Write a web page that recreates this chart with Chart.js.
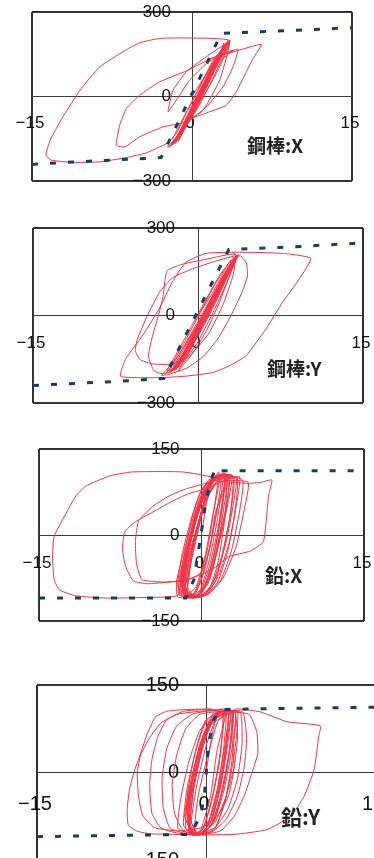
<!DOCTYPE html>
<html><head><meta charset="utf-8">
<script src="https://cdn.jsdelivr.net/npm/chart.js@4"></script>
<style>
html,body{margin:0;padding:0;background:#fff;overflow:hidden;width:374px;height:858px;position:relative;}
.panel{position:absolute;left:0;}
canvas{display:block;}
</style></head><body>
<div class="panel" style="top:0px"><canvas id="c1" width="374" height="200"></canvas></div>
<div class="panel" style="top:210px"><canvas id="c2" width="374" height="210"></canvas></div>
<div class="panel" style="top:430px"><canvas id="c3" width="374" height="210"></canvas></div>
<div class="panel" style="top:670px"><canvas id="c4" width="400" height="210"></canvas></div>
<script>
// ---- DATA (displacement, force) ----
const panelTitles = ['鋼棒:X', '鋼棒:Y', '鉛:X', '鉛:Y'];
const dispTicks = [-15, 0, 15];
const steelForceTicks = [-300, 0, 300];
const leadForceTicks = [-150, 0, 150];

const steelXSkeleton = [[-15,-241],[-11.8,-234],[-2.9,-217],[2.75,224],[6.3,230],[15,244]];
const steelYSkeleton = [[-15,-240],[-6.9,-225],[-3.1,-216],[2.8,226],[8,234],[15,249]];
const leadXSkeleton = [[-15,-110],[-1.45,-110],[-0.7,-78],[-0.22,-20],[0.34,50],[0.77,91],[1.32,117],[1.63,112],[15,112]];
const leadYSkeleton = [[-15,-110],[-8.5,-108],[-1.4,-106],[-0.5,-75],[-0.15,-41],[0.24,50],[0.68,90],[1.27,108],[7.8,110],[15,112]];

const steelXPath = [
 [0,0],[1.0,60],[2.2,130],[3.2,180],
 [3.1,185],[2.0,110],[0.8,20],[-0.5,-80],[-1.5,-150],[-2.1,-178],[-1.2,-130],[0,-40],[1.2,50],[2.3,130],[3.4,200],
 [2.6,150],[1.4,60],[0.2,-30],[-1.0,-115],[-1.7,-165],[-0.8,-100],[0.5,-10],[1.7,90],[2.8,165],[3.5,190],
 [2.9,140],[1.9,60],[0.7,-30],[-0.6,-110],[-1.3,-160],[-0.4,-90],[0.9,0],[2.1,100],[3.3,175],
 [2.5,130],[1.3,40],[0.1,-50],[-1.1,-130],[-1.8,-172],[-0.9,-115],[0.3,-20],[1.5,75],[2.6,150],[3.5,195],
 [2.7,135],[1.5,45],[0.3,-45],[-0.9,-125],[-1.6,-168],[-0.6,-100],[0.6,-5],[1.9,95],[3.1,180],
 [2.3,125],[1.1,35],[-0.2,-55],[-1.3,-140],[-2.0,-176],[-1.1,-125],[0.1,-35],[1.3,60],[2.4,140],[3.3,192],
 [2.6,140],[1.6,60],[0.5,-25],[-0.7,-105],[-1.5,-158],[-0.5,-95],[0.8,5],[2.0,105],[3.0,178],
 [2.4,120],[1.2,30],[0,-60],[-1.2,-140],[-1.9,-170],[-1.0,-120],[0.2,-30],[1.4,60],[2.5,140],[3.0,190],
 [2.2,110],[0.9,10],[-0.4,-90],[-1.6,-160],[-1.8,-150],[-0.6,-60],[0.8,40],[2.0,130],[3.6,200],
 [2.8,150],[1.6,50],[0.4,-40],[-0.8,-120],[-2.0,-175],[-2.3,-180],[-1.4,-140],[-0.2,-50],[1.0,40],[2.2,130],[4.3,168],
 [3.84,105],[2.9,34],[1.34,-37],[-0.53,-96],[-1.47,-155],[-1.78,-167],[-0.6,-110],[0.9,-10],[2.4,90],[3.53,194],
 [1.34,141],[-0.53,88],[-1.78,22],[-2.25,-54],[-1.47,-13],[-0.22,58],[1.34,117],[2.3,141],[3.84,158],[6.5,185],
 [5.72,135],[4.94,76],[4.16,17],[3.22,-31],[1.66,-54],[0.25,-72],[-0.22,-54],[0.72,22],[1.97,105],[3.84,164],
 [1.97,138],[-0.53,91],[-3.03,52],[-4.9,5],[-6.16,-43],[-6.78,-102],[-7.1,-173],[-6.3,-179],[-4.9,-143],[-2.72,-108],[-0.53,-90],[1.03,-49],[2.6,58],[3.53,198],
 [1.97,206],[-1.16,208],[-3.03,206],[-4.9,191],[-6.47,159],[-8.66,105],[-10.5,22],[-12.1,-72],[-13.3,-155],[-13.7,-208],[-13.2,-226],[-11.2,-234],[-8.66,-232],[-6.16,-217],[-4.28,-200],[-2.4,-167],[-1.47,-131],[-0.53,-60],[0.72,34],[2.28,141],[3.4,195]
];

const steelYPath = [
 [0,0],[1.2,70],[2.4,150],[3.5,205],
 [3.6,208],[2.6,140],[1.4,50],[0.2,-40],[-1.0,-120],[-2.0,-175],[-2.6,-195],[-1.5,-140],[-0.2,-50],[1.1,40],[2.4,130],[3.4,200],
 [2.2,125],[1.0,30],[-0.2,-60],[-1.5,-150],[-2.2,-185],[-1.2,-120],[0.1,-30],[1.4,70],[2.6,150],[3.6,205],
 [2.9,140],[1.9,40],[0.8,-50],[-0.5,-130],[-1.8,-190],[-0.6,-110],[0.6,-20],[1.9,80],[3.2,170],
 [2.3,120],[1.1,30],[-0.1,-60],[-1.3,-140],[-2.4,-192],[-1.4,-135],[-0.1,-40],[1.2,55],[2.5,145],[3.6,207],
 [2.7,145],[1.5,50],[0.3,-40],[-0.9,-125],[-2.0,-185],[-0.9,-125],[0.4,-30],[1.7,70],[3.0,165],
 [2.1,115],[0.9,25],[-0.3,-65],[-1.6,-155],[-2.6,-198],[-1.6,-150],[-0.3,-55],[1.0,40],[2.3,135],[3.5,206],
 [2.6,150],[1.3,55],[0.1,-35],[-1.1,-115],[-2.1,-180],[-1.0,-130],[0.2,-40],[1.5,60],[2.8,155],[3.6,205],
 [2.5,150],[1.2,60],[0,-20],[-1.2,-100],[-2.5,-180],[-3.0,-200],[-2.0,-160],[-0.6,-70],[0.6,10],[1.8,100],[3.3,200],
 [2.0,140],[0.8,60],[-0.5,-30],[-1.8,-120],[-2.8,-190],[-1.8,-170],[-0.4,-80],[0.9,10],[2.2,110],[3.7,210],
 [3.0,160],[1.8,60],[0.6,-30],[-0.8,-120],[-2.2,-190],[-1.0,-140],[0.4,-40],[1.6,50],[2.8,150],[3.0,190],
 [1.6,110],[0.2,10],[-1.2,-90],[-2.4,-170],[-1.6,-150],[-0.2,-50],[1.2,50],[2.4,140],[3.8,205],
 [4.4,180],[4.5,136],[4.0,80],[3.0,0],[1.8,-80],[0.5,-140],[-1.0,-180],[-2.5,-200],[-3.3,-205],[-2.0,-150],[-0.5,-60],[1.0,40],[2.5,140],[3.6,205],
 [1.5,185],[-0.5,160],[-2.3,130],[-3.5,80],[-4.6,0],[-5.5,-80],[-5.7,-120],[-5.3,-150],[-4.3,-165],[-2.5,-168],[-0.8,-140],[1.0,-60],[2.3,40],[3.2,140],[3.4,210],
 [1.0,195],[-1.5,175],[-2.8,154],[-3.0,120],[-3.2,60],[-3.6,0],[-4.2,-80],[-4.5,-140],[-4.0,-190],[-3.0,-200],[-1.5,-170],[0,-90],[1.5,20],[2.8,130],[3.5,205],
 [3.13,217],[7.68,213],[10.26,196],[9.2,125],[7.68,45],[6.16,-47],[4.34,-139],[2.82,-173],[1.3,-196],[-1.12,-208],[-3.25,-213],[-5.5,-213],[-7.05,-208],[-6.6,-150],[-5.07,-70],[-3.55,22],[-2.34,114],[-1.12,182],[0.7,213],[3.13,217]
];

const leadXPath = [
 [0,0],[0.5,60],[1.2,100],[2.0,108],
 [2.2,107],[1.9,50],[1.3,-20],[0.5,-80],[-0.3,-104],[-1.4,-108],[-1.7,-70],[-1.0,-10],[-0.2,50],[0.9,95],[3.2,101],
 [2.9,50],[2.3,-10],[1.4,-70],[0.4,-102],[-0.9,-109],[-2.0,-100],[-1.6,-50],[-0.8,10],[0.2,65],[1.4,100],[2.6,104],
 [2.3,50],[1.6,-15],[0.8,-75],[-0.2,-104],[-1.1,-106],[-1.9,-85],[-1.4,-30],[-0.6,30],[0.4,80],[1.8,104],
 [1.5,50],[0.9,-10],[0.1,-70],[-0.7,-103],[-1.6,-104],[-1.2,-55],[-0.5,5],[0.4,70],[1.4,104],[3.8,96],
 [3.5,40],[2.8,-25],[1.8,-78],[0.6,-104],[-0.7,-109],[-2.1,-104],[-2.0,-70],[-1.3,-15],[-0.4,45],[0.8,92],[2.2,107],
 [1.8,30],[1.1,-40],[0.2,-92],[-0.6,-108],[-1.3,-90],[-0.9,-30],[-0.1,35],[0.9,90],[2.5,104],
 [2.4,60],[1.7,0],[0.9,-60],[0.1,-100],[-0.8,-108],[-1.7,-88],[-1.3,-35],[-0.5,25],[0.5,80],[1.7,104],
 [1.0,30],[0.3,-40],[-0.5,-90],[-1.4,-104],[-2.0,-80],[-1.5,-25],[-0.8,35],[0.2,85],[2.1,106],
 [2.0,70],[1.5,10],[0.8,-50],[0,-95],[-0.9,-107],[-1.9,-95],[-1.5,-45],[-0.8,15],[0.1,70],[1.1,100],[2.9,103],
 [2.6,30],[1.9,-35],[1.0,-85],[0.0,-105],[-1.3,-107],[-2.2,-90],[-1.8,-35],[-1.0,25],[-0.1,75],[1.2,102],[3.3,99],
 [3.0,30],[2.4,-30],[1.5,-82],[0.3,-106],[-1.0,-110],[-1.9,-80],[-1.1,-20],[-0.3,40],[0.7,88],[2.0,106],
 [1.4,20],[0.7,-45],[-0.1,-95],[-1.0,-108],[-1.8,-75],[-1.2,-15],[-0.4,50],[0.6,95],[2.3,105],
 [2.1,20],[1.5,-50],[0.7,-95],[-0.4,-108],[-1.5,-92],[-1.3,-40],[-0.6,20],[0.3,75],[1.6,103],[2.5,104],
 [1.6,60],[1.0,0],[0.3,-60],[-0.5,-100],[-1.5,-108],[-1.8,-90],[-1.2,-30],[-0.5,30],[0.5,80],[1.2,100],[2.8,105],
 [2.5,60],[1.8,0],[1.0,-60],[0,-100],[-1.0,-108],[-2.0,-105],[-1.8,-60],[-1.0,0],[0,60],[1.0,95],[1.6,110],
 [1.2,50],[0.6,-20],[-0.2,-80],[-0.8,-105],[-1.3,-100],[-0.9,-40],[-0.2,20],[0.6,80],[3.5,102],
 [3.2,50],[2.6,-10],[1.6,-70],[0.5,-103],[-0.8,-110],[-2.2,-108],[-2.3,-80],[-1.5,-20],[-0.6,40],[0.6,90],[2.4,106],
 [2.0,40],[1.4,-30],[0.6,-85],[-0.4,-106],[-1.6,-98],[-1.2,-50],[-0.4,10],[0.7,70],[1.5,95],[3.0,100],
 [2.7,40],[2.1,-20],[1.3,-80],[0.2,-106],[-1.2,-104],[-1.6,-70],[-0.8,-10],[0.2,50],[1.3,92],[4.3,92],
 [3.9,40],[3.2,-20],[2.0,-75],[0.8,-100],[-0.5,-108],[-1.8,-106],[-1.4,-60],[-0.6,0],[0.3,60],[1.5,95],
 [0,88],[-1.5,80],[-3,68],[-4.5,50],[-5.8,25],[-6.1,-10],[-6.0,-50],[-5.5,-78],[-3.5,-82],[-1.5,-80],[0,-65],[0.8,-20],[1.3,40],[2.5,90],
 [4.3,90],[5.5,92],[6.5,96],[6.2,70],[6.0,30],[5.7,-12],[4.5,-28],[2.5,-38],[1,-60],[-1,-76],[-3,-82],[-5.0,-85],[-6.3,-80],[-7.0,-55],[-7.3,-25],[-7.1,5],[-6.2,22],[-4.5,40],[-2.8,58],[-1.2,72],[0.5,82],[1.0,100],
 [-1.75,110],[-6.4,110],[-8.5,103],[-10.7,85],[-11.6,68],[-12.5,38],[-13.6,-2],[-13.75,-37],[-13.6,-78],[-13.1,-96],[-11.6,-106],[-8.8,-110],[-5.1,-109],[-2.4,-107],[-1.6,-95],[-1.0,-50],[-0.4,0],[0.2,50],[0.7,90],[1.2,106]
];

const leadYPath = [
 [0,0],[0.6,70],[1.2,108],
 [2.2,106],[1.9,45],[1.3,-25],[0.5,-82],[-0.4,-104],[-1.4,-104],[-1.5,-50],[-0.9,15],[0.1,75],[1.5,106],
 [1.3,40],[0.7,-30],[-0.1,-88],[-0.8,-106],[-1.6,-90],[-1.2,-20],[-0.4,45],[0.6,92],[2.4,106],
 [2.1,35],[1.4,-35],[0.5,-90],[-0.5,-106],[-1.5,-100],[-1.6,-55],[-1.0,10],[-0.1,70],[1.0,102],[2.8,104],
 [2.5,30],[1.8,-40],[0.9,-92],[-0.2,-106],[-1.1,-104],[-1.9,-75],[-1.3,-10],[-0.4,55],[0.8,98],[1.8,107],
 [1.5,30],[0.9,-40],[0.1,-92],[-0.7,-107],[-1.4,-80],[-1.0,-15],[-0.2,50],[0.8,96],[2.2,106],
 [1.9,60],[1.4,0],[0.7,-60],[-0.1,-100],[-1.0,-107],[-1.8,-80],[-1.4,-25],[-0.7,35],[0.3,85],[1.6,106],
 [1.2,20],[0.5,-50],[-0.3,-98],[-1.2,-106],[-1.7,-65],[-1.1,0],[-0.3,60],[0.7,100],[2.4,105],
 [2.2,50],[1.6,-20],[0.8,-78],[-0.1,-104],[-1.1,-106],[-1.6,-70],[-0.9,-5],[-0.1,60],[1.0,100],[2.0,106],
 [1.6,25],[1.0,-45],[0.2,-96],[-0.6,-107],[-1.3,-85],[-0.8,-20],[0.0,45],[1.0,95],[2.6,104],
 [2.3,20],[1.7,-50],[0.8,-96],[-0.2,-107],[-1.0,-100],[-0.7,-40],[0.1,25],[1.0,85],[2.0,107],
 [1.8,40],[1.2,-30],[0.4,-85],[-0.5,-105],[-1.4,-95],[-1.1,-30],[-0.4,35],[0.6,90],[2.3,106],
 [2.0,30],[1.3,-40],[0.4,-92],[-0.6,-106],[-1.6,-85],[-1.3,-20],[-0.6,45],[0.4,92],[1.8,107],
 [1.0,40],[0.4,-40],[-0.4,-95],[-1.0,-106],[-1.8,-95],[-1.6,-30],[-0.9,40],[0.0,90],[2.0,107],
 [1.7,50],[1.1,-20],[0.3,-80],[-0.6,-104],[-1.5,-100],[-1.3,-40],[-0.7,20],[0.3,80],[2.6,104],
 [2.3,40],[1.6,-30],[0.7,-85],[-0.3,-105],[-1.2,-108],[-2.0,-90],[-1.7,-30],[-1.0,30],[0,85],[3.0,104],
 [3.2,50],[2.8,-10],[2.0,-60],[0.8,-95],[-1.0,-106],[-2.5,-96],[-2.2,-40],[-1.5,20],[-0.6,70],[0.6,100],[2.5,106],
 [2.8,60],[2.5,10],[1.8,-40],[0.8,-85],[-0.5,-104],[-2.0,-100],[-2.8,-70],[-3.0,-20],[-2.6,30],[-1.8,75],[-0.5,100],[3.2,105],
 [3.6,60],[3.4,10],[2.8,-40],[1.8,-80],[0.5,-102],[-1.5,-106],[-3.2,-95],[-3.8,-60],[-3.9,-10],[-3.5,40],[-2.6,80],[-1.2,100],[0.5,106],[3.8,100],
 [4.5,70],[4.6,33],[4.0,-5],[3.4,-40],[2.5,-75],[1.3,-100],[-0.5,-107],[-2.5,-104],[-4.0,-95],[-4.8,-70],[-5.0,-20],[-4.8,22],[-4.3,60],[-3.5,90],[-2,105],[0,108],[1.5,108],
 [-0.5,105],[-2.5,100],[-4,85],[-5,60],[-5.8,30],[-6.1,0],[-6.0,-40],[-5.6,-75],[-4.5,-95],[-2.5,-100],[-0.5,-95],[1,-75],[2,-40],[2.5,10],[2.3,60],[2.5,108],
 [4.8,104],[7.2,87],[10.15,80],[10.0,62],[9.6,5],[8.7,-41],[7.5,-75],[5.4,-98],[2.5,-106],[-0.5,-107],[-2.9,-106],[-5.0,-105],[-6.2,-100],[-6.9,-90],[-7.0,-64],[-6.8,-30],[-6.4,0],[-5.8,33],[-5.2,67],[-4.5,95],[-3.5,105],[-1.7,108],[0.5,109]
];

// ---- RENDERING ----
const toXY = arr => arr.map(p => ({x: p[0], y: p[1]}));
const fmt = v => (v < 0 ? '\u2212' + Math.abs(v) : String(v));
const TICK_FONT = "'Liberation Sans', Arial, sans-serif";
// tick labels may overhang the plot box; do not let them shrink it
const noLabelPadding = s => { s.paddingLeft = 0; s.paddingRight = 0; s.paddingTop = 0; s.paddingBottom = 0; };

const panelLabel = {
  id: 'panelLabel',
  afterDatasetsDraw(chart, args, o) {
    const {ctx, chartArea} = chart;
    ctx.save();
    ctx.font = 'bold ' + o.size + 'px "Noto Sans CJK JP", sans-serif';
    ctx.fillStyle = '#222';
    ctx.textBaseline = 'middle';
    ctx.textAlign = 'left';
    ctx.fillText(o.text, chartArea.left + o.dx, chartArea.top + o.dy);
    ctx.restore();
  }
};

function makePanel(id, title, path, skeleton, xTicks, yTicks, st) {
  const xMin = xTicks[0], xMax = xTicks[xTicks.length - 1];
  const yMin = yTicks[0], yMax = yTicks[yTicks.length - 1];
  const gridW = c => (c.tick && c.tick.value === 0 ? 1 : 2);
  const gridC = c => (c.tick && c.tick.value === 0 ? '#3c3c3c' : '#333');
  const A = st.area;
  new Chart(document.getElementById(id), {
    type: 'scatter',
    data: {datasets: [
      {data: toXY(skeleton), showLine: true, borderColor: '#173d6b', borderWidth: 3, borderDash: [6, 12], pointRadius: 0, tension: 0},
      {data: toXY(path), showLine: true, borderColor: '#ee3346', borderWidth: 1, pointRadius: 0, tension: 0.15}
    ]},
    options: {
      responsive: false, animation: false, events: [],
      layout: {padding: {left: A.left, top: A.top, right: st.w - A.right, bottom: st.h - A.bottom}, autoPadding: false},
      plugins: {legend: {display: false}, tooltip: {enabled: false}, panelLabel: {text: title, size: st.labelSize, dx: st.labelDx, dy: st.labelDy}},
      scales: {
        x: {type: 'linear', position: 'center', min: xMin, max: xMax,
            afterBuildTicks: s => { s.ticks = xTicks.map(v => ({value: v})); },
            afterFit: noLabelPadding,
            ticks: {callback: fmt, font: {family: TICK_FONT, size: st.font}, color: '#111', padding: st.xPad, labelOffset: -2, maxRotation: 0, autoSkip: false},
            grid: {drawTicks: false, lineWidth: gridW, color: gridC},
            border: {display: false}},
        y: {type: 'linear', position: 'center', min: yMin, max: yMax,
            afterBuildTicks: s => { s.ticks = yTicks.map(v => ({value: v})); },
            afterFit: noLabelPadding,
            ticks: {callback: fmt, font: {family: TICK_FONT, size: st.font}, color: '#111', padding: st.yPad, autoSkip: false},
            grid: {drawTicks: false, lineWidth: gridW, color: gridC},
            border: {display: false}}
      }
    },
    plugins: [panelLabel]
  });
}

makePanel('c1', panelTitles[0], steelXPath, steelXSkeleton, dispTicks, steelForceTicks,
  {w: 374, h: 200, area: {left: 32, top: 12, right: 352, bottom: 181}, font: 17, xPad: 17, yPad: 21, labelSize: 19, labelDx: 215, labelDy: 134});
makePanel('c2', panelTitles[1], steelYPath, steelYSkeleton, dispTicks, steelForceTicks,
  {w: 374, h: 210, area: {left: 33, top: 18, right: 363, bottom: 193}, font: 17, xPad: 18, yPad: 23, labelSize: 19, labelDx: 234, labelDy: 141});
makePanel('c3', panelTitles[2], leadXPath, leadXSkeleton, dispTicks, leadForceTicks,
  {w: 374, h: 210, area: {left: 39, top: 19, right: 364, bottom: 191}, font: 17, xPad: 18, yPad: 22, labelSize: 19, labelDx: 226, labelDy: 127});
makePanel('c4', panelTitles[3], leadYPath, leadYSkeleton, dispTicks, leadForceTicks,
  {w: 400, h: 210, area: {left: 37, top: 15, right: 375, bottom: 190}, font: 20, xPad: 20, yPad: 27, labelSize: 21, labelDx: 244, labelDy: 132});
</script>
</body></html>
